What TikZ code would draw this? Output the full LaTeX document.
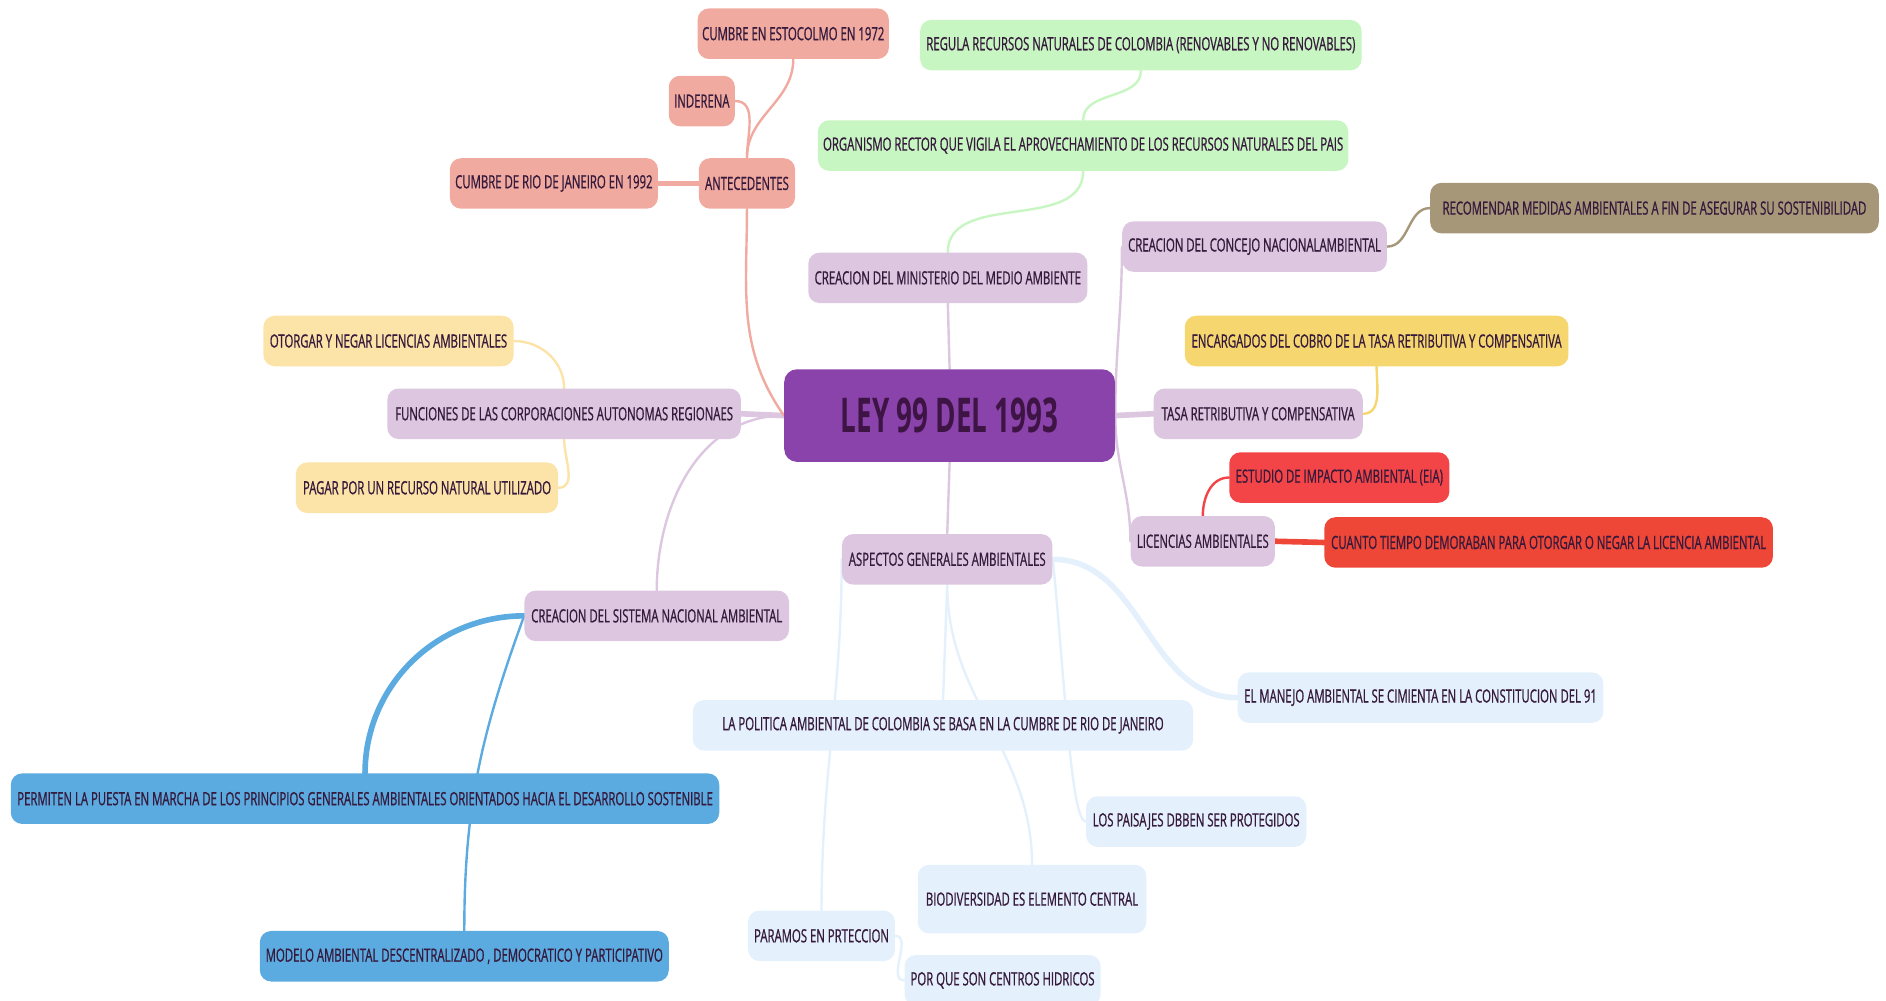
\documentclass[tikz,border=0pt]{standalone}
\usepackage{fontspec}
\setmainfont{Open Sans}[FakeStretch=0.62, FakeBold=0.8]
\newfontfamily\rootfont{Open Sans}[FakeStretch=0.58]
\usetikzlibrary{backgrounds}

\definecolor{ink}{HTML}{361A3C}
\definecolor{rootink}{HTML}{3D1443}
\definecolor{rootfill}{HTML}{8A43AB}
\definecolor{lav}{HTML}{DCC6E0}
\definecolor{salmon}{HTML}{F0AAA0}
\definecolor{mint}{HTML}{C8F6C2}
\definecolor{khaki}{HTML}{A69779}
\definecolor{cream}{HTML}{FCE3A8}
\definecolor{gold}{HTML}{F5D66F}
\definecolor{redA}{HTML}{F34547}
\definecolor{redB}{HTML}{EE4637}
\definecolor{sky}{HTML}{E4F0FC}
\definecolor{blue}{HTML}{5BABE1}

\tikzset{
  topic/.style={rounded corners=8pt, inner sep=0pt, align=center, text=ink,
    minimum height=42*0.03cm, font=\fontsize{13}{15}\selectfont},
  boxw/.style={minimum width=#1*0.03cm},
  link/.style={line width=1.7pt, line cap=round},
  fat/.style={line width=4pt, line cap=round}
}

\begin{document}
\begin{tikzpicture}[x=0.03cm, y=-0.03cm]
\useasboundingbox (0,0) rectangle (1568,832);

% Nodes
\draw (789.5,345.5) node[rounded corners=9pt, fill=rootfill, text=rootink, minimum height=77*0.03cm, boxw=275, font=\rootfont\bfseries\fontsize{34}{38}\selectfont] (root) {LEY 99 DEL 1993};

\draw (659.5,28) node[topic, fill=salmon, boxw=159] (esto) {CUMBRE EN ESTOCOLMO EN 1972};
\draw (583.5,84) node[topic, fill=salmon, boxw=55] (inde) {INDERENA};
\draw (460.5,152.5) node[topic, fill=salmon, boxw=173] (rio) {CUMBRE DE RIO DE JANEIRO EN 1992};
\draw (621,152.5) node[topic, fill=salmon, boxw=80] (ante) {ANTECEDENTES};

\draw (948.5,37.5) node[topic, fill=mint, boxw=367] (regula) {REGULA RECURSOS NATURALES DE COLOMBIA (RENOVABLES Y NO RENOVABLES)};
\draw (900.5,121) node[topic, fill=mint, boxw=441] (organ) {ORGANISMO RECTOR QUE VIGILA EL APROVECHAMIENTO DE LOS RECURSOS NATURALES DEL PAIS};
\draw (788,231) node[topic, fill=lav, boxw=232] (mini) {CREACION DEL MINISTERIO DEL MEDIO AMBIENTE};

\draw (1043,205) node[topic, fill=lav, boxw=220] (concejo) {CREACION DEL CONCEJO NACIONALAMBIENTAL};
\draw (1375.5,173) node[topic, fill=khaki, boxw=373] (recom) {RECOMENDAR MEDIDAS AMBIENTALES A FIN DE ASEGURAR SU SOSTENIBILIDAD};
\draw (1144.5,283.5) node[topic, fill=gold, boxw=319] (encarg) {ENCARGADOS DEL COBRO DE LA TASA RETRIBUTIVA Y COMPENSATIVA};
\draw (1046,344) node[topic, fill=lav, boxw=174] (tasa) {TASA RETRIBUTIVA Y COMPENSATIVA};
\draw (1113.5,397) node[topic, fill=redA, boxw=183] (estudio) {ESTUDIO DE IMPACTO AMBIENTAL (EIA)};
\draw (1000,450) node[topic, fill=lav, boxw=120] (lic) {LICENCIAS AMBIENTALES};
\draw (1287.5,451) node[topic, fill=redB, boxw=373] (cuanto) {CUANTO TIEMPO DEMORABAN PARA OTORGAR O NEGAR LA LICENCIA AMBIENTAL};

\draw (323,283.5) node[topic, fill=cream, boxw=208] (otorgar) {OTORGAR Y NEGAR LICENCIAS AMBIENTALES};
\draw (469,344) node[topic, fill=lav, boxw=294] (func) {FUNCIONES DE LAS CORPORACIONES AUTONOMAS REGIONAES};
\draw (355,405.5) node[topic, fill=cream, boxw=218] (pagar) {PAGAR POR UN RECURSO NATURAL UTILIZADO};

\draw (546,512) node[topic, fill=lav, boxw=220] (sistema) {CREACION DEL SISTEMA NACIONAL AMBIENTAL};
\draw (303.5,664) node[topic, fill=blue, boxw=589] (permiten) {PERMITEN LA PUESTA EN MARCHA DE LOS PRINCIPIOS GENERALES AMBIENTALES ORIENTADOS HACIA EL DESARROLLO SOSTENIBLE};
\draw (386,795) node[topic, fill=blue, boxw=340] (modelo) {MODELO AMBIENTAL DESCENTRALIZADO , DEMOCRATICO Y PARTICIPATIVO};

\draw (787.5,465) node[topic, fill=lav, boxw=175] (aspec) {ASPECTOS GENERALES AMBIENTALES};
\draw (1181,580) node[topic, fill=sky, boxw=304] (manejo) {EL MANEJO AMBIENTAL SE CIMIENTA EN LA CONSTITUCION DEL 91};
\draw (784,603) node[topic, fill=sky, boxw=416] (politica) {LA POLITICA AMBIENTAL DE COLOMBIA SE BASA EN LA CUMBRE DE RIO DE JANEIRO};
\draw (994.5,683) node[topic, fill=sky, boxw=183] (paisajes) {LOS PAISAJES DBBEN SER PROTEGIDOS};
\draw (858,747.5) node[topic, fill=sky, boxw=190, minimum height=57*0.03cm] (biodiv) {BIODIVERSIDAD ES ELEMENTO CENTRAL};
\draw (683,778) node[topic, fill=sky, boxw=122] (paramos) {PARAMOS EN PRTECCION};
\draw (833.5,815) node[topic, fill=sky, boxw=163] (hidricos) {POR QUE SON CENTROS HIDRICOS};

% Links
\begin{scope}[on background layer]
\draw[link, lav] (root.north) -- (mini.south);
\draw[link, lav] (root.south) -- (aspec.north);
\draw[fat, lav] (root.east) -- (tasa.west);
\draw[link, lav] (root.east) to[out=90, in=-90] (concejo.west);
\draw[link, lav] (root.east) to[out=-90, in=90] (lic.west);
\draw[fat, lav] (root.west) -- (func.east);
\draw[link, lav] (root.west) to[out=180, in=90] (sistema.north);
\draw[link, salmon] (root.west) to[out=125, in=-90] (ante.south);

\draw[fat, salmon] (ante.west) -- (rio.east);
\draw[link, salmon] (ante.north) to[out=90, in=0] (inde.east);
\draw[link, salmon] (ante.north) to[out=90, in=-90] (esto.south);

\draw[link, mint] (mini.north) to[out=90, in=-90] (organ.south);
\draw[link, mint] (organ.north) to[out=90, in=-90] (regula.south);

\draw[link, khaki] (concejo.east) to[out=0, in=180] (recom.west);
\draw[link, gold] (tasa.east) to[out=0, in=-90] (encarg.south);
\draw[link, redA] (lic.north) to[out=90, in=180] (estudio.west);
\draw[fat, redB] (lic.east) -- (cuanto.west);

\draw[link, cream] (func.north) to[out=90, in=0] (otorgar.east);
\draw[link, cream] (func.south) to[out=-90, in=0] (pagar.east);

\draw[fat, blue] (sistema.west) to[out=180, in=90] (permiten.north);
\draw[link, blue] (sistema.west) to[out=-110, in=90] (modelo.north);

\draw[fat, sky] (aspec.east) to[out=0, in=180] (manejo.west);
\draw[link, sky] (aspec.south) -- (politica.north);
\draw[link, sky] (aspec.south) to[out=-90, in=90] (biodiv.north);
\draw[link, sky] (aspec.west) to[out=-90, in=90] (paramos.north);
\draw[link, sky] (aspec.east) .. controls (885,560) and (890,683) .. (paisajes.west);
\draw[link, sky] (paramos.east) to[out=0, in=180] (hidricos.west);
\end{scope}
\end{tikzpicture}
\end{document}
